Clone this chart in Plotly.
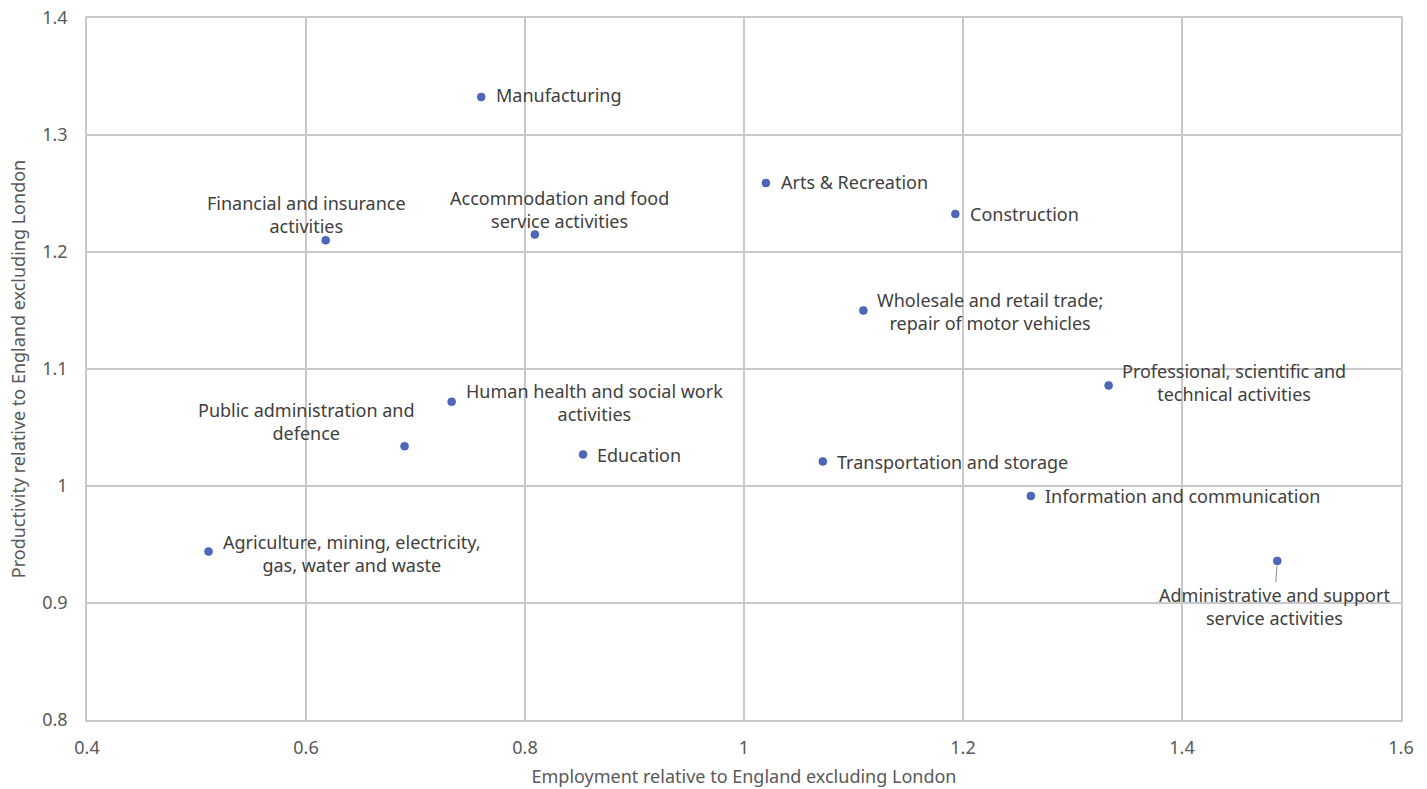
import plotly.graph_objects as go

# Отраслевые данные: занятость и производительность относительно Англии без Лондона
sectors = [
    "Manufacturing",
    "Arts & Recreation",
    "Construction",
    "Financial and insurance<br>activities",
    "Accommodation and food<br>service activities",
    "Wholesale and retail trade;<br>repair of motor vehicles",
    "Professional, scientific and<br>technical activities",
    "Human health and social work<br>activities",
    "Public administration and<br>defence",
    "Education",
    "Transportation and storage",
    "Information and communication",
    "Agriculture, mining, electricity,<br>gas, water and waste",
    "Administrative and support<br>service activities",
]
employment = [0.760, 1.020, 1.193, 0.618, 0.809, 1.109, 1.333, 0.733, 0.690, 0.853, 1.072, 1.262, 0.511, 1.487]
productivity = [1.3325, 1.259, 1.2325, 1.210, 1.215, 1.150, 1.086, 1.072, 1.034, 1.027, 1.021, 0.9915, 0.944, 0.936]

# смещения подписей в пикселях: (xanchor, dx, dy)
label_pos = [
    ("left", 13, 2),
    ("left", 13, 1),
    ("left", 13, 0),
    ("center", -19, 26),
    ("center", 25, 25),
    ("left", 12, -1),
    ("left", 11, 3),
    ("left", 12, -1),
    ("center", -98, 25),
    ("left", 12, -1),
    ("left", 12, -1),
    ("left", 12, 0),
    ("left", 12, -2),
]

FONT = "Noto Sans"
TEXT = "#404040"
TICK = "#595959"
GRID = "#C9C9C9"

fig = go.Figure()
fig.add_trace(go.Scatter(
    x=employment,
    y=productivity,
    mode="markers",
    marker=dict(size=8, color="#4D67BD", line=dict(color="#3B4F99", width=0.5)),
    hoverinfo="skip",
    showlegend=False,
))

for i, (xa, dx, dy) in enumerate(label_pos):
    fig.add_annotation(
        x=employment[i], y=productivity[i], xref="x", yref="y",
        text=sectors[i], showarrow=False,
        xanchor=xa, yanchor="middle", align="center",
        xshift=dx, yshift=dy,
        font=dict(family=FONT, size=18, color=TEXT),
    )

# последняя подпись — с выноской
fig.add_annotation(
    x=employment[-1], y=productivity[-1], xref="x", yref="y",
    text=sectors[-1], showarrow=True, arrowhead=0, arrowwidth=1,
    arrowcolor="#8C8C8C", ax=-3, ay=46, standoff=5, align="center",
    font=dict(family=FONT, size=18, color=TEXT),
)

axis_common = dict(
    showgrid=True, gridcolor=GRID, gridwidth=1.5,
    showline=True, linecolor=GRID, linewidth=1.5, mirror=True,
    zeroline=False, ticks="", ticklabeloverflow="allow",
    tickfont=dict(family=FONT, size=18, color=TICK),
    title_font=dict(family=FONT, size=18, color=TICK),
)
fig.update_xaxes(range=[0.4, 1.6], dtick=0.2, tick0=0.4, ticklabelstandoff=11,
                 title_text="Employment relative to England excluding London",
                 title_standoff=12, **axis_common)
fig.update_yaxes(range=[0.8, 1.4], dtick=0.1, tick0=0.8, ticklabelstandoff=14,
                 title_text="Productivity relative to England excluding London",
                 title_standoff=12, **axis_common)

fig.update_layout(
    width=1427, height=789,
    margin=dict(l=87, r=26, t=18, b=69, autoexpand=False),
    plot_bgcolor="white", paper_bgcolor="white",
    font=dict(family=FONT, color=TEXT),
)

# убираем стандартный отступ body, чтобы график лёг ровно в окно
fig.write_html(
    "out.html",
    config={"displayModeBar": False},
    post_script="document.body.style.margin='0';",
)
